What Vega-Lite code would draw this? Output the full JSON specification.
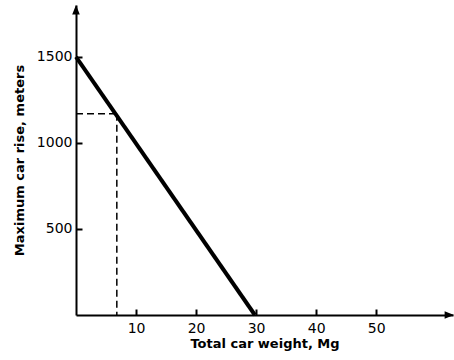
{
  "$schema": "https://vega.github.io/schema/vega-lite/v6.json",
  "width": 377,
  "height": 310,
  "autosize": "none",
  "padding": {"left": 76, "top": 5, "right": 1, "bottom": 45},
  "background": "white",
  "config": {
    "view": {"stroke": null},
    "axis": {
      "grid": false,
      "domainColor": "black",
      "domainWidth": 2,
      "tickColor": "black",
      "tickWidth": 2,
      "labelFont": "DejaVu Sans",
      "labelFontSize": 14,
      "labelColor": "black",
      "titleFont": "DejaVu Sans",
      "titleFontSize": 13,
      "titleFontWeight": "bold",
      "titleColor": "black"
    }
  },
  "datasets": {
    "main": [{"x": 0, "y": 1500}, {"x": 29.8, "y": 0}],
    "dash": [
      {"x": 0, "y": 1170, "g": "h"}, {"x": 6.8, "y": 1170, "g": "h"},
      {"x": 6.8, "y": 1170, "g": "v"}, {"x": 6.8, "y": 0, "g": "v"}
    ],
    "arrows": [{"x": 62.2, "y": 0, "d": "right"}, {"x": 0, "y": 1775, "d": "up"}]
  },
  "layer": [
    {
      "data": {"name": "dash"},
      "mark": {"type": "line", "color": "black", "strokeWidth": 1.5, "strokeDash": [7, 4]},
      "encoding": {
        "x": {"field": "x", "type": "quantitative", "scale": {"domain": [0, 62.8], "nice": false},
          "axis": {"values": [10, 20, 30, 40, 50], "tickSize": -6, "labelPadding": 12, "format": "d", "title": "Total car weight, Mg", "titlePadding": 2}},
        "y": {"field": "y", "type": "quantitative", "scale": {"domain": [0, 1802], "nice": false},
          "axis": {"values": [500, 1000, 1500], "tickSize": -6, "labelPadding": 10, "format": "d", "title": "Maximum car rise, meters", "titlePadding": 10}},
        "detail": {"field": "g"}
      }
    },
    {
      "data": {"name": "main"},
      "mark": {"type": "line", "color": "black", "strokeWidth": 4},
      "encoding": {
        "x": {"field": "x", "type": "quantitative"},
        "y": {"field": "y", "type": "quantitative"}
      }
    },
    {
      "data": {"name": "arrows"},
      "mark": {"type": "point", "filled": true, "color": "black", "size": 90, "opacity": 1},
      "encoding": {
        "x": {"field": "x", "type": "quantitative"},
        "y": {"field": "y", "type": "quantitative"},
        "shape": {"field": "d", "type": "nominal", "legend": null,
          "scale": {"domain": ["right", "up"], "range": ["M1,0L-1,0.8L-1,-0.8Z", "M0,-1L0.8,1L-0.8,1Z"]}}
      }
    }
  ]
}
